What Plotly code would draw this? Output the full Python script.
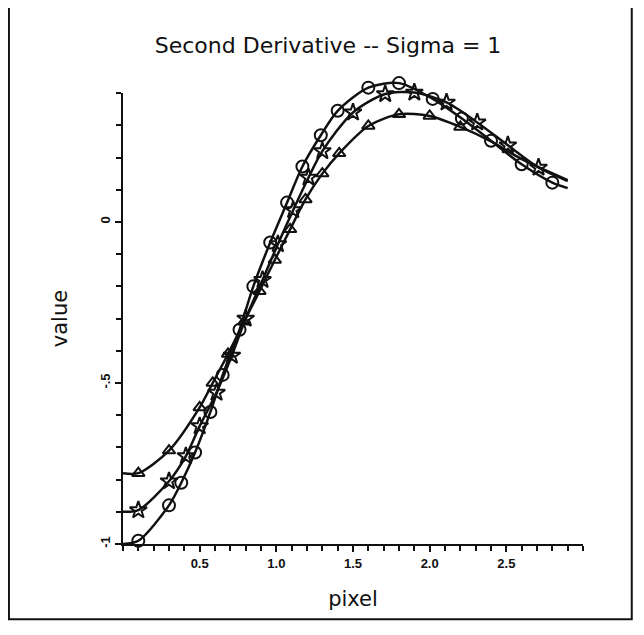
import plotly.graph_objects as go

# ---- data ----
# circles (continuous curve)
circ_x = [0.10, 0.30, 0.38, 0.47, 0.57, 0.65, 0.76, 0.85, 0.96, 1.07, 1.17, 1.29, 1.40, 1.60, 1.80, 2.02, 2.21, 2.40, 2.60, 2.80]
circ_y = [-0.99, -0.88, -0.81, -0.716, -0.59, -0.475, -0.335, -0.20, -0.064, 0.06, 0.172, 0.269, 0.345, 0.417, 0.431, 0.382, 0.321, 0.252, 0.179, 0.122]
circ_line_x = [0.0] + circ_x + [2.90]
circ_line_y = [-1.0] + circ_y + [0.105]

# stars
star_x = [0.10, 0.30, 0.41, 0.50, 0.61, 0.71, 0.80, 0.91, 1.01, 1.11, 1.21, 1.30, 1.50, 1.71, 1.90, 2.11, 2.31, 2.51, 2.71]
star_y = [-0.895, -0.805, -0.727, -0.634, -0.53, -0.415, -0.30, -0.18, -0.069, 0.037, 0.138, 0.22, 0.34, 0.397, 0.402, 0.371, 0.309, 0.238, 0.169]
star_line_x = [0.0] + star_x + [2.90]
star_line_y = [-0.90] + star_y + [0.127]

# triangles
tri_x = [0.10, 0.30, 0.50, 0.585, 0.685, 0.79, 0.89, 0.99, 1.09, 1.19, 1.30, 1.41, 1.60, 1.80, 2.00, 2.20]
tri_y = [-0.78, -0.71, -0.576, -0.50, -0.41, -0.31, -0.215, -0.118, -0.023, 0.07, 0.15, 0.213, 0.298, 0.334, 0.329, 0.295]
tri_line_x = [0.0] + tri_x + [2.40, 2.60, 2.90]
tri_line_y = [-0.78] + tri_y + [0.250, 0.195, 0.130]

x_tick_vals = [0.5, 1.0, 1.5, 2.0, 2.5]
x_tick_text = ["0.5", "1.0", "1.5", "2.0", "2.5"]
y_tick_vals = [-1.0, -0.5, 0.0]
y_tick_text = ["-1", "-.5", "0"]
y_axis_range = [-1.0, 0.4]    # drawn extent of the y axis
y_data_range = [-1.0, 0.45]   # data area (curves rise above the axis top)

title_text = "Second Derivative -- Sigma = 1"
x_title = "pixel"
y_title = "value"

INK = "#111111"
FONT = "DejaVu Sans"
TICKFONT = dict(size=13, family="Liberation Sans", color=INK, weight="bold")

fig = go.Figure()

# empty trace so the visible y axis (x-y subplot) is drawn
fig.add_trace(go.Scatter(x=[None], y=[None], mode="markers", yaxis="y",
                         hoverinfo="skip", showlegend=False))

for lx, ly in [(circ_line_x, circ_line_y), (star_line_x, star_line_y), (tri_line_x, tri_line_y)]:
    fig.add_trace(go.Scatter(x=lx, y=ly, mode="lines", cliponaxis=False, yaxis="y2",
                             line=dict(color=INK, width=2.5, shape="spline", smoothing=0.8),
                             hoverinfo="skip", showlegend=False))

fig.add_trace(go.Scatter(x=circ_x, y=circ_y, mode="markers", cliponaxis=False, yaxis="y2",
                         marker=dict(symbol="circle-open", size=12, color=INK, line=dict(width=2, color=INK)),
                         showlegend=False))
fig.add_trace(go.Scatter(x=star_x, y=star_y, mode="markers", cliponaxis=False, yaxis="y2",
                         marker=dict(symbol="star-open", size=13, color=INK, line=dict(width=2, color=INK)),
                         showlegend=False))
fig.add_trace(go.Scatter(x=tri_x, y=tri_y, mode="markers", cliponaxis=False, yaxis="y2",
                         marker=dict(symbol="triangle-up-open", size=11, color=INK, line=dict(width=2, color=INK)),
                         showlegend=False))

span_axis = y_axis_range[1] - y_axis_range[0]
span_data = y_data_range[1] - y_data_range[0]

fig.update_layout(
    width=644, height=635,
    margin=dict(l=115, r=69, t=69, b=99, autoexpand=False),
    paper_bgcolor="white", plot_bgcolor="white",
    font=dict(family=FONT, color=INK),
    title=dict(text=title_text, x=0.497, xref="container", xanchor="center",
               y=1 - 37 / 635, yref="container", yanchor="middle",
               font=dict(size=22, family=FONT, color=INK)),
    xaxis=dict(range=[0, 3.0], showgrid=False, zeroline=False, anchor="y",
               showline=True, linecolor=INK, linewidth=2,
               tickmode="array", tickvals=x_tick_vals, ticktext=x_tick_text,
               ticks="outside", ticklen=6, tickwidth=2, tickcolor=INK,
               tickfont=TICKFONT,
               minor=dict(tickmode="linear", tick0=0, dtick=0.1, ticks="outside",
                          ticklen=5, tickwidth=1.5, tickcolor=INK, showgrid=False),
               title=dict(text=x_title, font=dict(size=21, family=FONT, color=INK), standoff=22)),
    yaxis=dict(range=y_axis_range, domain=[0, span_axis / span_data], anchor="x",
               showgrid=False, zeroline=False,
               showline=True, linecolor=INK, linewidth=2,
               tickmode="array", tickvals=y_tick_vals, ticktext=y_tick_text,
               tickangle=-90,
               ticks="outside", ticklen=6, tickwidth=2, tickcolor=INK,
               tickfont=TICKFONT,
               minor=dict(tickmode="linear", tick0=0, dtick=0.1, ticks="outside",
                          ticklen=5, tickwidth=1.5, tickcolor=INK, showgrid=False),
               title=dict(text=y_title, font=dict(size=21, family=FONT, color=INK), standoff=24)),
    yaxis2=dict(range=y_data_range, domain=[0, 1], anchor="x", visible=False,
                showgrid=False, zeroline=False),
    shapes=[
        dict(type="rect", xref="paper", yref="paper",
             x0=-0.248, x1=1.106, y0=-0.161, y1=1.153,
             line=dict(color=INK, width=2), fillcolor="rgba(0,0,0,0)", layer="below"),
    ],
)

fig.write_html("out.html")
